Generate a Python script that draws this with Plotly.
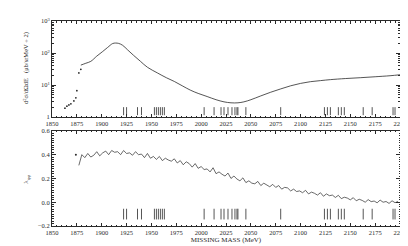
import plotly.graph_objects as go
from plotly.subplots import make_subplots

# ---- data ----
cs_mass = [1879, 1884, 1889, 1895, 1901, 1906, 1911, 1914, 1917, 1921, 1926, 1932, 1939, 1946,
           1956, 1965, 1973, 1981, 1989, 1997, 2006, 2015, 2023, 2030, 2037, 2043, 2050, 2060,
           2070, 2080, 2090, 2100, 2110, 2120, 2130, 2145, 2160, 2175, 2190, 2200]
cs_value = [42, 48, 55, 80, 112, 150, 198, 205, 200, 175, 126, 85, 55, 36,
            24, 17, 13, 9.5, 7, 5.5, 4.4, 3.5, 3.0, 2.8, 2.8, 3.0, 3.5, 4.6,
            6.0, 7.6, 9.5, 11.3, 12.8, 13.8, 14.8, 16, 17, 18.2, 19.6, 21]
low_mass = [1863, 1865, 1867, 1869, 1872, 1874, 1875, 1877, 1879]
low_value = [1.9, 2.2, 2.4, 2.6, 3.2, 4.0, 6.7, 24, 31]

lam_mass = list(range(1877, 2199, 3))
lam_value = [0.31, 0.40, 0.375, 0.41, 0.38, 0.395, 0.425, 0.39, 0.415, 0.43,
             0.40, 0.435, 0.42, 0.425, 0.40, 0.435, 0.41, 0.415, 0.395, 0.425,
             0.40, 0.405, 0.375, 0.41, 0.37, 0.385, 0.36, 0.385, 0.35, 0.37,
             0.355, 0.345, 0.365, 0.33, 0.35, 0.315, 0.34, 0.325, 0.295, 0.325,
             0.285, 0.30, 0.275, 0.28, 0.255, 0.29, 0.24, 0.255, 0.235, 0.22,
             0.245, 0.20, 0.22, 0.195, 0.18, 0.205, 0.165, 0.18, 0.16, 0.155,
             0.175, 0.14, 0.16, 0.145, 0.13, 0.15, 0.125, 0.14, 0.11, 0.125,
             0.12, 0.095, 0.11, 0.09, 0.095, 0.08, 0.10, 0.07, 0.085, 0.075,
             0.06, 0.08, 0.05, 0.07, 0.055, 0.06, 0.04, 0.058, 0.03, 0.042,
             0.035, 0.02, 0.038, 0.012, 0.025, 0.015, 0.0, 0.022, 0.005, 0.01,
             -0.005, 0.018, 0.0, 0.006, -0.01, 0.012, -0.004, 0.006]
lam_start_mass = [1874]
lam_start_value = [0.40]

level_mass = [1922, 1925, 1936, 1940, 1953, 1955, 1957, 1959, 1961, 1963, 2003, 2013,
              2020, 2023, 2027, 2031, 2034, 2036, 2037, 2045, 2080, 2124, 2127, 2130,
              2138, 2141, 2144, 2163, 2172, 2193, 2195]
level_top_lo, level_top_hi = 1.15, 2.05
level_bot_lo, level_bot_hi = -0.145, -0.055

x_ticks = list(range(1850, 2201, 25))
y1_ticks = [1, 10, 100, 1000]
y1_text = ["1", "10<sup>1</sup>", "10<sup>2</sup>", "10<sup>3</sup>"]
y2_ticks = [-0.2, 0.0, 0.2, 0.4, 0.6]
y2_text = ["\u22120.2", "0.0", "0.2", "0.4", "0.6"]

INK = "#2a2a2a"
FONT = "Liberation Serif"

fig = make_subplots(rows=2, cols=1, shared_xaxes=False, vertical_spacing=0.0)

# top panel
fig.add_trace(go.Scatter(x=cs_mass, y=cs_value, mode="lines",
                         line=dict(color=INK, width=0.8, shape="spline")), row=1, col=1)
fig.add_trace(go.Scatter(x=low_mass, y=low_value, mode="markers",
                         marker=dict(color=INK, size=1.8)), row=1, col=1)

def level_lines(lo, hi):
    xs, ys = [], []
    for m in level_mass:
        xs += [m, m, None]
        ys += [lo, hi, None]
    return xs, ys

lx, ly = level_lines(level_top_lo, level_top_hi)
fig.add_trace(go.Scatter(x=lx, y=ly, mode="lines", line=dict(color=INK, width=0.8)), row=1, col=1)

# bottom panel
n = min(len(lam_mass), len(lam_value))
fig.add_trace(go.Scatter(x=lam_mass[:n], y=lam_value[:n], mode="lines",
                         line=dict(color=INK, width=0.7)), row=2, col=1)
fig.add_trace(go.Scatter(x=lam_start_mass, y=lam_start_value, mode="markers",
                         marker=dict(color=INK, size=2)), row=2, col=1)
lx, ly = level_lines(level_bot_lo, level_bot_hi)
fig.add_trace(go.Scatter(x=lx, y=ly, mode="lines", line=dict(color=INK, width=0.8)), row=2, col=1)

xaxis_common = dict(range=[1850, 2200], tickvals=x_ticks, ticks="inside", ticklen=3,
                    tickcolor=INK, showline=True, linecolor=INK, linewidth=1, mirror="allticks",
                    showgrid=False, zeroline=False,
                    tickfont=dict(family=FONT, size=6.5, color=INK),
                    minor=dict(ticks="inside", dtick=5, ticklen=1.5, tickcolor=INK, showgrid=False))
fig.update_xaxes(**xaxis_common)
fig.update_xaxes(row=2, col=1, title=dict(text="MISSING MASS (MeV)", standoff=2,
                                          font=dict(family=FONT, size=7, color=INK)))

minor_log = [k * 10 ** d for d in range(3) for k in range(2, 10)]
fig.update_yaxes(row=1, col=1, type="log", range=[0, 3], tickvals=y1_ticks, ticktext=y1_text,
                 ticks="inside", ticklen=4, tickcolor=INK, showline=True, linecolor=INK,
                 linewidth=1, mirror="allticks", showgrid=False, zeroline=False,
                 tickfont=dict(family=FONT, size=6.5, color=INK),
                 minor=dict(ticks="inside", tickvals=minor_log, ticklen=2, tickcolor=INK,
                            showgrid=False))
fig.update_yaxes(row=2, col=1, range=[-0.2, 0.6], tickvals=y2_ticks, ticktext=y2_text,
                 ticks="inside", ticklen=4, tickcolor=INK, showline=True, linecolor=INK,
                 linewidth=1, mirror="allticks", showgrid=False, zeroline=False,
                 tickfont=dict(family=FONT, size=6.5, color=INK),
                 minor=dict(ticks="inside", dtick=0.02, ticklen=1.5, tickcolor=INK,
                            showgrid=False))

fig.update_layout(
    width=408, height=246,
    margin=dict(l=44, r=15, t=9, b=28),
    paper_bgcolor="white", plot_bgcolor="white",
    showlegend=False,
    font=dict(family=FONT, size=7, color=INK),
    yaxis=dict(domain=[0.531, 1.0]),
    yaxis2=dict(domain=[0.0, 0.464]),
    annotations=[
        dict(text="d<sup>2</sup>\u03c3/d\u03a9dE   (\u03bcb/srMeV \u00f7 2)", xref="paper", yref="paper",
             x=-0.075, y=0.77, xanchor="center", yanchor="middle", textangle=-90,
             showarrow=False, font=dict(family=FONT, size=6.5, color=INK)),
        dict(text="\u03bb<sub>\u03c6\u03c6</sub>", xref="paper", yref="paper",
             x=-0.075, y=0.23, xanchor="center", yanchor="middle", textangle=-90,
             showarrow=False, font=dict(family=FONT, size=7, color=INK)),
    ],
)

fig.write_html("out.html")
